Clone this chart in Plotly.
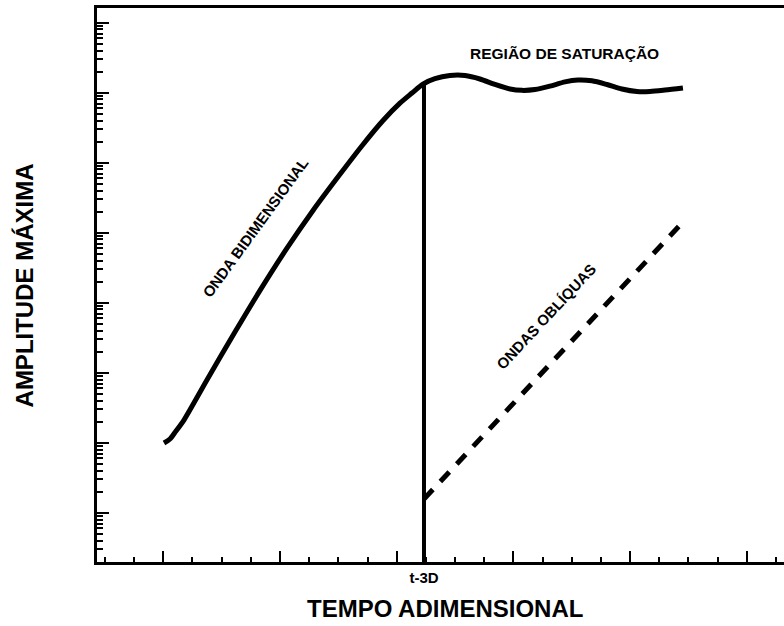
import plotly.graph_objects as go

# Dimensionless time (one major tick = 1 unit) and maximum amplitude of the 2-D wave
tempo_2d = [0.006, 0.057, 0.109, 0.177, 0.374, 0.614, 0.829, 1.060, 1.283, 1.514,
            1.703, 1.883, 2.028, 2.131, 2.225, 2.328, 2.456, 2.585, 2.713, 2.842,
            2.971, 3.074, 3.185, 3.313, 3.442, 3.553, 3.673, 3.802, 3.930, 4.059,
            4.170, 4.299, 4.453]
amp_2d = [9.9e-7, 1.13e-6, 1.47e-6, 2.11e-6, 7.87e-6, 3.81e-5, 1.50e-4, 6.01e-4, 2.08e-3, 6.83e-3,
          1.75e-2, 4.01e-2, 7.08e-2, 9.9e-2, 0.133, 0.159, 0.176, 0.176, 0.157, 0.131,
          0.113, 0.108, 0.111, 0.124, 0.143, 0.152, 0.148, 0.131, 0.113, 0.104,
          0.104, 0.109, 0.117]

# Oblique waves: straight growth in log scale starting at t-3D
tempo_obl = [2.234, 4.453]
amp_obl = [1.57e-7, 1.42e-3]

# Onset of three-dimensional growth
t_3d = 2.234
amp_t3d = [1.98e-8, 0.135]

x_range = [-0.568, 5.319]
y_log_range = [-7.704, 0.21]

x_major = [0, 1, 2, t_3d, 3, 4, 5]
x_major_text = ["", "", "", "t-3D", "", "", ""]
y_major = [10.0 ** k for k in range(-8, 1)]
y_minor = [m * 10.0 ** k for k in range(-9, 1) for m in range(2, 10)]

FONT = "Liberation Sans, Arial, Helvetica, sans-serif"

fig = go.Figure()

fig.add_trace(go.Scatter(
    x=tempo_2d, y=amp_2d, mode="lines",
    line=dict(color="black", width=5, shape="spline", smoothing=0.8),
    hoverinfo="skip", showlegend=False,
))
fig.add_trace(go.Scatter(
    x=[t_3d, t_3d], y=amp_t3d, mode="lines",
    line=dict(color="black", width=4),
    hoverinfo="skip", showlegend=False,
))
fig.add_trace(go.Scatter(
    x=tempo_obl, y=amp_obl, mode="lines",
    line=dict(color="black", width=5, dash="13px,11px"),
    hoverinfo="skip", showlegend=False,
))

fig.update_xaxes(
    range=x_range, showgrid=False, zeroline=False,
    showline=True, linecolor="black", linewidth=3, mirror=True,
    tickmode="array", tickvals=x_major, ticktext=x_major_text,
    ticks="inside", ticklen=11, tickwidth=2, tickcolor="black",
    tickfont=dict(family=FONT, size=15, color="black", weight="bold"),
    minor=dict(tickmode="linear", tick0=0, dtick=0.25, ticks="inside",
               ticklen=5, tickwidth=1.5, tickcolor="black", showgrid=False),
)
fig.update_yaxes(
    type="log", range=y_log_range, showgrid=False, zeroline=False,
    showline=True, linecolor="black", linewidth=3, mirror=False,
    tickmode="array", tickvals=y_major, showticklabels=False,
    ticks="inside", ticklen=12, tickwidth=2, tickcolor="black",
    minor=dict(tickmode="array", tickvals=y_minor, ticks="inside",
               ticklen=6, tickwidth=1.5, tickcolor="black", showgrid=False),
)


def bold(size):
    return dict(family=FONT, size=size, color="black", weight="bold")


def label(text, x, y, size, angle=0, ref="data"):
    xref, yref = ("paper", "paper") if ref == "paper" else ("x", "y")
    fig.add_annotation(text=text, x=x, y=y, xref=xref, yref=yref,
                       xanchor="center", yanchor="middle", textangle=angle,
                       showarrow=False, font=bold(size))


label("REGIÃO DE SATURAÇÃO", 3.434, -0.433, 15.5)
label("ONDA BIDIMENSIONAL", 0.787, -2.919, 15, angle=-54)
label("ONDAS OBLÍQUAS", 3.278, -4.19, 15, angle=-47)
label("TEMPO ADIMENSIONAL", 0.5065, -0.0847, 24, ref="paper")
label("AMPLITUDE MÁXIMA", -0.106, 0.4995, 24, angle=-90, ref="paper")

fig.update_layout(
    width=784, height=626,
    margin=dict(l=97, r=0, t=8, b=64),
    paper_bgcolor="white", plot_bgcolor="white",
)

fig.write_html("out.html")
